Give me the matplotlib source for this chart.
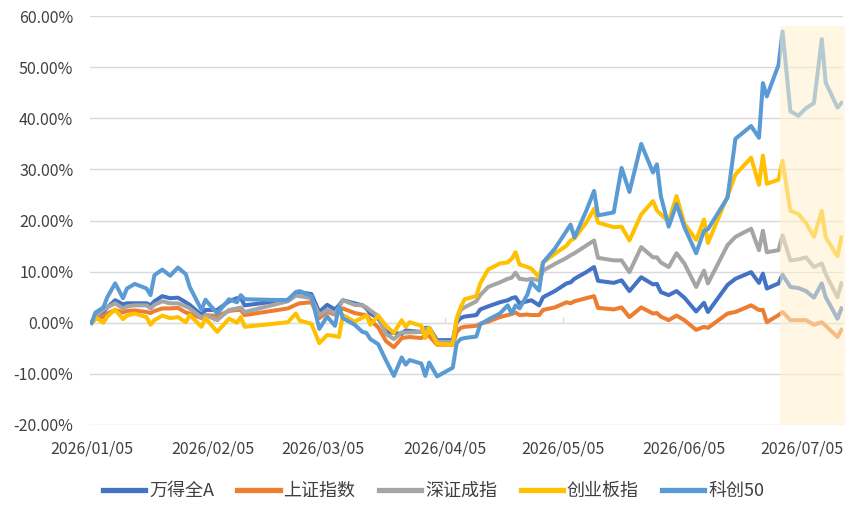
import matplotlib
matplotlib.use("Agg")
import matplotlib.pyplot as plt
import matplotlib.dates as mdates
from matplotlib.ticker import FuncFormatter, MultipleLocator
import pandas as pd

plt.rcParams["font.family"] = ["Noto Sans CJK SC", "DejaVu Sans"]

# ---- data (cumulative return, %) ----
dates = [
    "2026-01-05", "2026-01-06", "2026-01-08", "2026-01-09", "2026-01-11", "2026-01-13",
    "2026-01-14", "2026-01-16", "2026-01-19", "2026-01-20", "2026-01-21", "2026-01-23",
    "2026-01-25", "2026-01-27", "2026-01-29", "2026-01-30", "2026-02-02", "2026-02-03",
    "2026-02-06", "2026-02-09", "2026-02-11", "2026-02-12", "2026-02-13", "2026-02-24",
    "2026-02-26", "2026-02-27", "2026-03-02", "2026-03-04", "2026-03-06", "2026-03-08",
    "2026-03-09", "2026-03-10", "2026-03-13", "2026-03-15", "2026-03-16", "2026-03-17",
    "2026-03-19", "2026-03-21", "2026-03-23", "2026-03-25", "2026-03-26", "2026-03-27",
    "2026-03-30", "2026-03-31", "2026-04-01", "2026-04-03", "2026-04-07", "2026-04-08",
    "2026-04-09", "2026-04-10", "2026-04-13", "2026-04-14", "2026-04-16", "2026-04-19",
    "2026-04-21", "2026-04-22", "2026-04-23", "2026-04-24", "2026-04-26", "2026-04-27",
    "2026-04-29", "2026-04-30", "2026-05-03", "2026-05-06", "2026-05-07", "2026-05-08",
    "2026-05-11", "2026-05-13", "2026-05-14", "2026-05-18", "2026-05-20", "2026-05-22",
    "2026-05-25", "2026-05-28", "2026-05-29", "2026-05-30", "2026-06-01", "2026-06-03",
    "2026-06-05", "2026-06-08", "2026-06-10", "2026-06-11", "2026-06-16", "2026-06-18",
    "2026-06-22", "2026-06-24", "2026-06-25", "2026-06-26", "2026-06-29", "2026-06-30",
    "2026-07-02", "2026-07-04", "2026-07-06", "2026-07-08", "2026-07-10", "2026-07-11",
    "2026-07-14", "2026-07-15",
]

wind_a = [
    0.0, 1.2, 2.1, 3.0, 4.4, 3.6, 3.8, 3.8, 3.8, 3.4, 4.2, 5.2,
    4.8, 4.9, 4.0, 3.5, 1.5, 2.5, 2.5, 4.2, 4.8, 4.8, 3.4, 4.5,
    5.8, 6.0, 5.6, 2.1, 3.5, 2.6, 3.4, 4.4, 3.8, 3.4, 2.8, 1.8,
    0.9, -1.8, -2.0, -2.2, -1.5, -1.6, -1.8, -1.0, -1.0, -3.4, -3.4, 0.1,
    0.9, 1.2, 1.5, 2.6, 3.2, 4.0, 4.4, 4.8, 5.0, 3.8, 4.2, 4.4,
    3.4, 5.0, 6.2, 7.7, 7.9, 8.6, 9.9, 10.9, 8.2, 7.8, 8.3, 6.2,
    8.9, 7.5, 7.6, 6.0, 5.4, 6.2, 4.9, 2.2, 3.9, 2.1, 7.4, 8.6,
    9.9, 7.8, 9.6, 6.7, 7.7, 9.4, 7.0, 6.8, 6.2, 4.9, 7.7, 5.0,
    0.8, 2.8,
]

sse = [
    0.0, 0.8, 1.1, 1.8, 2.5, 2.0, 2.3, 2.4, 2.1, 1.9, 2.3, 2.8,
    2.8, 2.9, 2.0, 1.8, 0.9, 1.5, 1.3, 2.3, 2.5, 2.5, 1.5, 2.8,
    3.5, 3.8, 4.0, 0.9, 2.1, 1.6, 2.2, 2.8, 1.9, 1.6, 1.5, 0.5,
    -0.9, -3.6, -4.8, -3.0, -2.9, -2.8, -3.0, -2.5, -2.6, -4.3, -4.3, -1.8,
    -1.0, -0.8, -0.6, -0.2, 0.2, 1.1, 1.5, 1.7, 2.0, 1.5, 1.6, 1.5,
    1.5, 2.5, 3.0, 4.0, 3.8, 4.2, 4.8, 5.2, 2.9, 2.6, 3.0, 1.1,
    3.0, 1.8, 1.9, 1.2, 0.5, 1.4, 0.5, -1.4, -0.8, -1.0, 1.8, 2.1,
    3.4, 2.5, 2.5, 0.1, 1.5, 2.1, 0.5, 0.5, 0.5, -0.4, 0.1, -0.6,
    -2.8, -1.4,
]

szse = [
    0.0, 1.2, 2.5, 3.0, 3.8, 2.8, 3.2, 3.4, 3.4, 2.8, 3.5, 4.2,
    3.8, 3.8, 3.2, 2.8, 1.0, 1.5, 0.5, 2.5, 2.8, 3.0, 2.1, 4.2,
    5.3, 5.2, 4.8, 1.5, 2.5, 1.8, 3.0, 4.4, 3.5, 3.4, 3.0, 2.4,
    1.3, -2.2, -3.2, -1.9, -1.9, -1.9, -1.8, -1.2, -1.1, -3.7, -3.8, 0.5,
    2.5, 3.0, 4.2, 5.4, 7.0, 7.9, 8.6, 8.8, 9.8, 8.6, 8.4, 8.6,
    8.3, 10.2, 11.5, 12.7, 13.2, 13.6, 15.1, 16.1, 12.7, 12.2, 12.2, 9.9,
    14.8, 12.8, 12.8, 11.8, 10.9, 13.6, 11.6, 7.0, 10.2, 7.7, 15.2, 16.8,
    18.4, 14.2, 18.0, 13.8, 14.2, 17.1, 12.2, 12.4, 12.8, 10.9, 11.6, 9.5,
    5.0, 7.7,
]

chinext = [
    0.0, 1.0, 0.0, 1.2, 2.6, 0.7, 1.4, 1.8, 1.1, -0.4, 0.5, 1.4,
    0.9, 1.1, 0.1, 1.5, -0.8, 0.9, -1.8, 0.8, 0.0, 1.1, -0.8, 0.1,
    1.8, 0.4, -0.2, -4.0, -2.4, -2.6, -2.8, 1.5, 0.2, 1.0, 1.5, -0.4,
    1.4, -0.6, -2.0, 0.5, -0.8, 0.1, -0.6, -3.0, -1.0, -4.1, -4.3, 0.9,
    3.0, 4.6, 5.2, 7.7, 10.4, 11.6, 11.8, 12.5, 13.8, 11.4, 10.9, 10.6,
    8.9, 11.8, 13.5, 15.1, 16.1, 16.5, 19.6, 22.3, 19.6, 18.7, 18.8, 16.1,
    21.2, 23.8, 22.0, 21.2, 19.8, 24.8, 19.4, 16.2, 20.2, 15.6, 24.8, 29.0,
    32.3, 27.0, 32.7, 27.2, 28.0, 31.7, 21.9, 21.3, 19.5, 16.8, 21.9, 16.7,
    13.0, 16.7,
]

star50 = [
    0.0, 2.0, 3.0, 5.0, 7.7, 4.8, 6.7, 7.6, 6.7, 5.4, 9.3, 10.4,
    9.2, 10.8, 9.5, 7.0, 2.5, 4.5, 1.8, 4.6, 4.0, 5.4, 4.6, 4.4,
    6.0, 6.2, 5.2, -1.2, 1.2, -0.6, 3.2, 0.9, -0.4, -1.8, -2.0, -3.2,
    -4.2, -7.4, -10.4, -6.8, -8.2, -7.3, -8.0, -10.4, -7.8, -10.5, -8.8, -4.0,
    -3.2, -3.0, -2.7, -0.3, 0.6, 1.8, 3.4, 1.8, 3.4, 2.8, 5.5, 7.9,
    6.3, 11.8, 14.5, 18.0, 19.2, 16.7, 21.9, 25.8, 21.0, 21.6, 30.3, 25.6,
    35.0, 29.4, 31.0, 24.8, 18.8, 23.2, 18.7, 13.6, 18.0, 18.3, 24.5, 36.0,
    38.5, 36.2, 46.9, 44.3, 50.5, 57.0, 41.4, 40.5, 42.0, 43.0, 55.5, 47.0,
    42.1, 43.0,
]

series_names = ["万得全A", "上证指数", "深证成指", "创业板指", "科创50"]
series_colors = ["#4472C4", "#ED7D31", "#A5A5A5", "#FFC000", "#5B9BD5"]

tick_dates = ["2026-01-05", "2026-02-05", "2026-03-05", "2026-04-05",
              "2026-05-05", "2026-06-05", "2026-07-05"]

highlight_span = ["2026-06-29 06:00", "2026-07-16 00:00"]
highlight_top = 58.0

# ---- plot ----
ts = pd.to_datetime(dates)

fig = plt.figure(figsize=(8.65, 5.22), dpi=100)
ax = fig.add_axes([0.104, 0.186, 0.871, 0.783])

for name, vals, color in zip(series_names, [wind_a, sse, szse, chinext, star50], series_colors):
    ax.plot(ts, vals, color=color, linewidth=2.9, label=name, solid_joinstyle="round", zorder=2)

ax.fill_between(pd.to_datetime(highlight_span), -20, highlight_top,
                color="#FFF2CC", alpha=0.55, linewidth=0, zorder=3, clip_on=False)

ax.set_ylim(-20, 60)
ax.set_xlim(pd.Timestamp("2026-01-04 14:00"), pd.Timestamp("2026-07-15 12:00"))
ax.yaxis.set_major_locator(MultipleLocator(10))
ax.yaxis.set_major_formatter(FuncFormatter(lambda v, p: f"{v:.2f}%"))
ax.set_xticks(pd.to_datetime(tick_dates))
ax.xaxis.set_major_formatter(mdates.DateFormatter("%Y/%m/%d"))

ax.grid(axis="y", color="#D9D9D9", linewidth=1)
ax.set_axisbelow(True)
for s in ax.spines.values():
    s.set_visible(False)
ax.tick_params(axis="both", length=0, labelsize=11.5, colors="#404040")
ax.tick_params(axis="x", pad=11)
ax.tick_params(axis="y", pad=12)

# horizontal axis line at 0% with small tick marks
sec = ax.secondary_xaxis(0, transform=ax.transData)
sec.set_xticks(pd.to_datetime(tick_dates))
sec.tick_params(direction="in", length=4, color="#D9D9D9", labelbottom=False)
sec.spines["bottom"].set_color("#D9D9D9")

leg = ax.legend(loc="center", bbox_to_anchor=(0.456, -0.162), ncol=5, frameon=False,
                fontsize=13, handlelength=2.35, handletextpad=0.2, columnspacing=1.3)
for line in leg.get_lines():
    line.set_linewidth(3.8)
for txt in leg.get_texts():
    txt.set_color("#404040")

fig.savefig("out.png", dpi=100)
